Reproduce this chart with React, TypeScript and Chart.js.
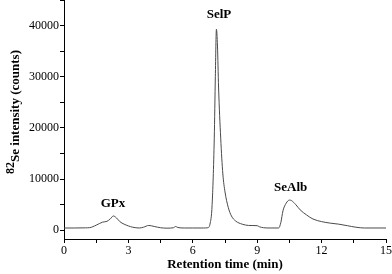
import React, { useEffect, useRef } from "react";
import { Chart, registerables } from "chart.js";

Chart.register(...registerables);

const timeMin = [0, 0.5, 1.0, 1.2, 1.5, 1.8, 2.0, 2.15, 2.3, 2.45, 2.6, 2.8, 3.0, 3.2, 3.5, 3.7, 3.95, 4.2, 4.5, 4.8, 5.1, 5.2, 5.3, 5.6, 6.0, 6.5, 6.7, 6.8, 6.9, 7.0, 7.05, 7.1, 7.15, 7.2, 7.3, 7.4, 7.5, 7.65, 7.8, 8.0, 8.3, 8.6, 9.0, 9.1, 9.3, 9.6, 10.0, 10.1, 10.2, 10.35, 10.5, 10.6, 10.8, 11.0, 11.3, 11.6, 12.0, 12.4, 12.8, 13.2, 13.6, 14.0, 15.0];
const intensity = [450, 450, 480, 520, 1000, 1600, 1750, 2200, 2800, 2400, 1700, 1200, 850, 600, 450, 600, 950, 750, 500, 420, 500, 750, 550, 450, 450, 450, 500, 1200, 5000, 18000, 30000, 39300, 36000, 28000, 18000, 11000, 7500, 4500, 2800, 1800, 1200, 950, 900, 700, 500, 450, 450, 1500, 3800, 5300, 5900, 5800, 5000, 4000, 3000, 2200, 1700, 1400, 1200, 900, 600, 450, 450];

const xTickValues = [0, 1.5, 3, 4.5, 6, 7.5, 9, 10.5, 12, 13.5, 15];
const yTickValues = [0, 5000, 10000, 15000, 20000, 25000, 30000, 35000, 40000, 45000];

const peakNames = ["GPx", "SelP", "SeAlb"];
const peakLabelTime = [2.28, 7.22, 10.56];
const peakLabelValue = [5230, 42050, 8330];

const xTitle = "Retention time (min)";
const yTitleSup = "82";
const yTitleMain = "Se intensity (counts)";

const FONT = "'Liberation Serif', 'Times New Roman', serif";

export default function App() {
  const ref = useRef<HTMLCanvasElement | null>(null);
  useEffect(() => {
    document.body.style.margin = "0";
    const canvas = ref.current;
    if (!canvas) return;
    const textPlugin = {
      id: "texts",
      afterDraw(chart: any) {
        const ctx = chart.ctx;
        const xs = chart.scales.x;
        const ys = chart.scales.y;
        ctx.save();
        ctx.fillStyle = "#000";
        ctx.textAlign = "center";
        ctx.textBaseline = "middle";
        ctx.font = `bold 13px ${FONT}`;
        peakNames.forEach((n, i) => {
          ctx.fillText(n, xs.getPixelForValue(peakLabelTime[i]), ys.getPixelForValue(peakLabelValue[i]));
        });
        ctx.fillText(xTitle, (chart.chartArea.left + chart.chartArea.right) / 2, 265);
        // y title
        ctx.translate(14, 112);
        ctx.rotate(-Math.PI / 2);
        ctx.textAlign = "left";
        ctx.textBaseline = "alphabetic";
        ctx.font = `bold 12px ${FONT}`;
        const wSup = ctx.measureText(yTitleSup).width;
        ctx.font = `bold 13px ${FONT}`;
        const wMain = ctx.measureText(yTitleMain).width;
        const start = -(wSup + wMain) / 2;
        ctx.font = `bold 12px ${FONT}`;
        ctx.fillText(yTitleSup, start, 0);
        ctx.font = `bold 13px ${FONT}`;
        ctx.fillText(yTitleMain, start + wSup, 5);
        ctx.restore();
      },
    };
    const chart = new Chart(canvas, {
      type: "line",
      data: {
        datasets: [
          {
            data: timeMin.map((t, i) => ({ x: t, y: intensity[i] })),
            borderColor: "#4a4a4a",
            borderWidth: 1,
            pointRadius: 0,
            cubicInterpolationMode: "monotone",
            fill: false,
          },
        ],
      },
      options: {
        animation: false,
        responsive: false,
        devicePixelRatio: 1,
        layout: { padding: { top: 0, right: 6, left: 0, bottom: 0 } },
        plugins: { legend: { display: false }, tooltip: { enabled: false } },
        scales: {
          x: {
            type: "linear",
            min: 0,
            max: 15,
            afterBuildTicks: (s: any) => { s.ticks = xTickValues.map((v) => ({ value: v })); },
            afterFit: (s: any) => { s.height = 35; s.paddingLeft = 0; s.paddingRight = 0; },
            grid: { drawOnChartArea: false, drawTicks: true, tickLength: 4, color: "#000" },
            border: { display: true, color: "#000", width: 1 },
            ticks: {
              autoSkip: false,
              maxRotation: 0,
              padding: 1,
              color: "#000",
              font: { family: FONT, size: 12 },
              callback: (v: any) => (Math.abs(v % 3) < 1e-6 ? String(v) : ""),
            },
          },
          y: {
            type: "linear",
            min: -1700,
            max: 45000,
            afterBuildTicks: (s: any) => { s.ticks = yTickValues.map((v) => ({ value: v })); },
            afterFit: (s: any) => { s.width = 64; s.paddingTop = 0; s.paddingBottom = 0; },
            grid: { drawOnChartArea: false, drawTicks: true, tickLength: 4, color: "#000" },
            border: { display: true, color: "#000", width: 1 },
            ticks: {
              autoSkip: false,
              padding: 1,
              color: "#000",
              font: { family: FONT, size: 12 },
              callback: (v: any) => (v % 10000 === 0 ? String(v) : ""),
            },
          },
        },
      },
      plugins: [textPlugin],
    } as any);
    return () => chart.destroy();
  }, []);
  return <canvas ref={ref} width={392} height={274} style={{ display: "block" }} />;
}
